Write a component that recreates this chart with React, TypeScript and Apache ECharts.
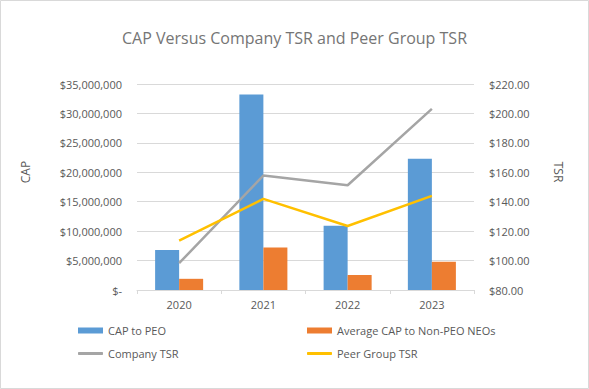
import React, { useEffect, useRef } from "react";
import * as echarts from "echarts";

const years = ["2020", "2021", "2022", "2023"];
const capToPeo = [6800000, 33200000, 10900000, 22300000];
const avgCapNonPeo = [1900000, 7200000, 2550000, 4800000];
const companyTsr = [98.2, 157.8, 151.2, 203.1];
const peerTsr = [113.5, 141.9, 123.5, 144.0];

const textColor = "#595959";
const font = "'Open Sans', 'Liberation Sans', sans-serif";

export default function App() {
  const ref = useRef<HTMLDivElement>(null);
  useEffect(() => {
    if (!ref.current) return;
    const chart = echarts.init(ref.current, null, { renderer: "svg" });
    const legendBase = {
      orient: "horizontal",
      itemWidth: 25,
      textStyle: { color: textColor, fontSize: 11, fontFamily: font },
      itemGap: 4,
      padding: 0,
    };
    chart.setOption({
      animation: false,
      backgroundColor: "#fff",
      textStyle: { fontFamily: font },
      grid: { left: 137, right: 115, top: 84, bottom: 99 },
      graphic: [
        {
          type: "rect",
          shape: { x: 0.5, y: 0.5, width: 588, height: 388 },
          style: { fill: "none", stroke: "#d9d9d9", lineWidth: 1 },
          silent: true,
          z: -10,
        },
        {
          type: "text",
          x: 294.5,
          y: 38,
          style: {
            text: "CAP Versus Company TSR and Peer Group TSR",
            fill: "#757575",
            font: `16px ${font}`,
            textAlign: "center",
            textVerticalAlign: "middle",
          },
        },
        {
          type: "text",
          x: 25,
          y: 172,
          rotation: Math.PI / 2,
          style: {
            text: "CAP",
            fill: textColor,
            font: `12px ${font}`,
            textAlign: "center",
            textVerticalAlign: "middle",
          },
        },
        {
          type: "text",
          x: 558,
          y: 172,
          rotation: -Math.PI / 2,
          style: {
            text: "TSR",
            fill: textColor,
            font: `12px ${font}`,
            textAlign: "center",
            textVerticalAlign: "middle",
          },
        },
      ],
      legend: [
        { ...legendBase, left: 78, top: 325, itemHeight: 6, data: [{ name: "CAP to PEO", icon: "rect" }] },
        { ...legendBase, left: 307, top: 325, itemHeight: 6, data: [{ name: "Average CAP to Non-PEO NEOs", icon: "rect" }] },
        { ...legendBase, left: 78, top: 348, itemHeight: 3, data: [{ name: "Company TSR", icon: "roundRect" }] },
        { ...legendBase, left: 307, top: 348, itemHeight: 3, data: [{ name: "Peer Group TSR", icon: "roundRect" }] },
      ],
      xAxis: {
        type: "category",
        data: years,
        axisLine: { lineStyle: { color: "#d9d9d9" } },
        axisTick: { show: true, length: 4, lineStyle: { color: "#d9d9d9" } },
        axisLabel: { color: textColor, fontSize: 11, margin: 9 },
      },
      yAxis: [
        {
          type: "value",
          min: 0,
          max: 35000000,
          interval: 5000000,
          axisLine: { show: false },
          axisTick: { show: false },
          splitLine: { lineStyle: { color: "#d9d9d9" } },
          axisLabel: {
            color: textColor,
            fontSize: 11,
            margin: 15,
            formatter: (v: number) => (v === 0 ? "$-" : "$" + v.toLocaleString("en-US")),
          },
        },
        {
          type: "value",
          min: 80,
          max: 220,
          interval: 20,
          position: "right",
          axisLine: { show: false },
          axisTick: { show: false },
          splitLine: { show: false },
          axisLabel: {
            color: textColor,
            fontSize: 11,
            margin: 15,
            formatter: (v: number) => "$" + v.toFixed(2),
          },
        },
      ],
      series: [
        {
          name: "CAP to PEO",
          type: "bar",
          data: capToPeo,
          itemStyle: { color: "#5b9bd5" },
          barGap: "0%",
          barCategoryGap: "43%",
        },
        {
          name: "Average CAP to Non-PEO NEOs",
          type: "bar",
          data: avgCapNonPeo,
          itemStyle: { color: "#ed7d31" },
          barGap: "0%",
          barCategoryGap: "43%",
        },
        {
          name: "Company TSR",
          type: "line",
          yAxisIndex: 1,
          data: companyTsr,
          symbol: "none",
          lineStyle: { color: "#a5a5a5", width: 2.5 },
          itemStyle: { color: "#a5a5a5" },
        },
        {
          name: "Peer Group TSR",
          type: "line",
          yAxisIndex: 1,
          data: peerTsr,
          symbol: "none",
          lineStyle: { color: "#ffc000", width: 2.5 },
          itemStyle: { color: "#ffc000" },
        },
      ],
    });
    return () => chart.dispose();
  }, []);
  return (
    <div
      ref={ref}
      style={{ position: "fixed", left: 0, top: 0, width: 589, height: 389 }}
    />
  );
}
